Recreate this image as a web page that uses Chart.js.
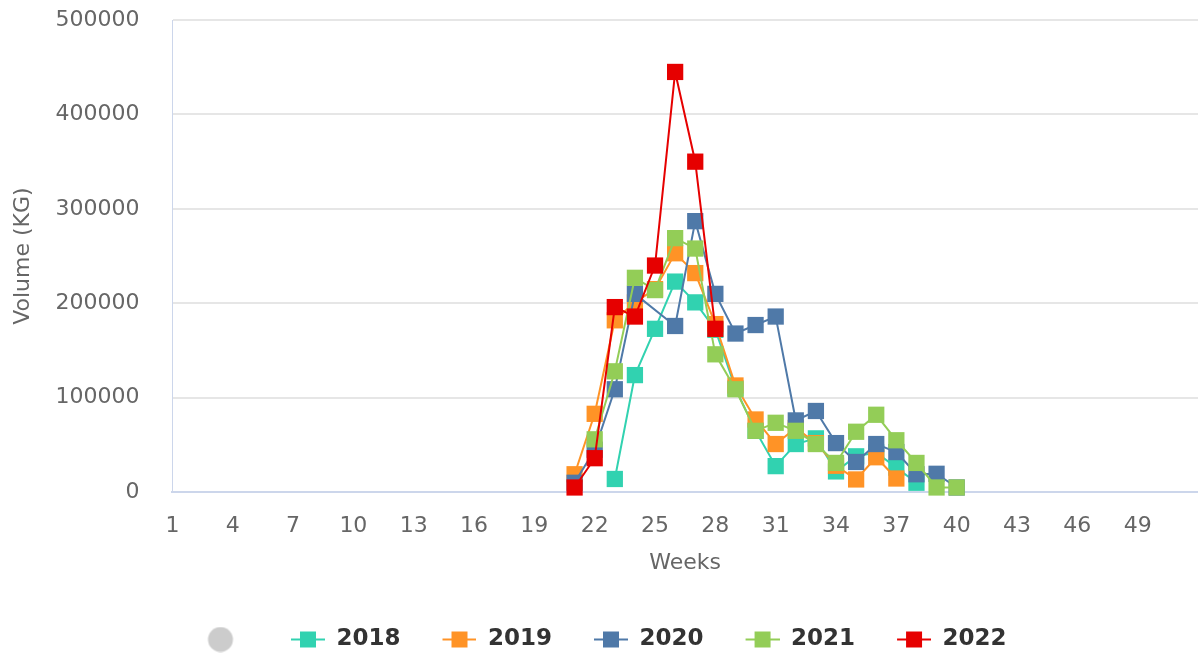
<!DOCTYPE html>
<html>
<head>
<meta charset="utf-8">
<script src="https://cdn.jsdelivr.net/npm/chart.js@4.4.0/dist/chart.umd.min.js"></script>
<style>
  html, body { margin: 0; padding: 0; background: #ffffff; }
  canvas { display: block; }
</style>
</head>
<body>
<canvas id="c" width="1198" height="655"></canvas>
<script>
// ---- data ----
const weeks = Array.from({length: 52}, (_, i) => String(i + 1));
const yTicks = [0, 100000, 200000, 300000, 400000, 500000];
const seriesNames = ['2018', '2019', '2020', '2021', '2022'];
const seriesColors = ['#31d2b0', '#ff9326', '#4f79a8', '#93cd57', '#e60000'];

// values by week, starting at week 21 (index 20); null = no value that week
const firstWeek = 21;
const v2018 = [null, null, 14000, 124000, 173000, 223000, 201000, 172000, 110000, 65000, 27600, 51000, 57000, 22000, 38000, 42000, 26000, 10000];
const v2019 = [19000, 83000, 182000, 201000, 215000, 253000, 232000, 178000, 113000, 77000, 51000, 68000, 52000, 28000, 13500, 37000, 14500];
const v2020 = [10000, 45000, 109000, 210000, null, 176000, 287000, 210000, 168000, 177000, 186000, 76000, 86000, 52000, 32000, 51000, 42500, 19000, 19500, 5000];
const v2021 = [null, 56000, 128000, 227000, 214000, 269000, 258000, 146000, 109000, 65000, 73500, 65000, 51000, 31000, 64000, 82000, 55000, 31000, 5000, 5000];
const v2022 = [5000, 36000, 196000, 186000, 240000, 445000, 350000, 173000];

function toWeekly(vals) {
  const out = weeks.map(() => null);
  vals.forEach((v, i) => { out[firstWeek - 1 + i] = v; });
  return out;
}
const allValues = [v2018, v2019, v2020, v2021, v2022];

// ---- legend symbols ----
function lineSquare(color) {
  const c = document.createElement('canvas');
  c.width = 66; c.height = 18;
  const g = c.getContext('2d');
  g.strokeStyle = color; g.lineWidth = 2;
  g.beginPath(); g.moveTo(32, 9); g.lineTo(66, 9); g.stroke();
  g.fillStyle = color;
  g.fillRect(49 - 8, 1, 16, 16);
  return c;
}
function greyCircle() {
  const c = document.createElement('canvas');
  c.width = 66; c.height = 26;
  const g = c.getContext('2d');
  g.fillStyle = '#cccccc';
  g.beginPath(); g.arc(49, 13, 12.5, 0, Math.PI * 2); g.fill();
  return c;
}

const FAMILY = 'DejaVu Sans';
Chart.defaults.font.family = FAMILY;
Chart.defaults.color = '#666666';

const datasets = seriesNames.map((name, i) => ({
  label: name,
  data: toWeekly(allValues[i]),
  borderColor: seriesColors[i],
  backgroundColor: seriesColors[i],
  borderWidth: 2,
  pointStyle: 'rect',
  pointRadius: 11.5,
  pointHoverRadius: 11.5,
  pointBorderWidth: 0,
  pointBackgroundColor: seriesColors[i],
  tension: 0,
  spanGaps: true,
  clip: false,
  order: seriesNames.length - 1 - i
}));

new Chart(document.getElementById('c'), {
  type: 'line',
  data: { labels: weeks, datasets },
  options: {
    responsive: false,
    animation: false,
    events: [],
    layout: { autoPadding: false, padding: { top: 20, right: 0, bottom: -6, left: -20 } },
    scales: {
      x: {
        type: 'category',
        offset: false,
        grid: { display: true, drawOnChartArea: false, drawTicks: true, tickLength: 21, tickColor: 'rgba(0,0,0,0)' },
        border: { display: true, color: '#ccd6eb', width: 2 },
        ticks: {
          autoSkip: false, maxRotation: 0, minRotation: 0, padding: 0,
          color: '#666666', font: { family: FAMILY, size: 22 },
          callback: (val, i) => (i % 3 === 0 && i < 51) ? weeks[i] : ''
        },
        title: { display: true, text: 'Weeks', color: '#666666', font: { family: FAMILY, size: 22 }, padding: { top: 10, bottom: 42 } }
      },
      y: {
        min: 0, max: 500000,
        afterBuildTicks: (axis) => { axis.ticks = yTicks.map(v => ({ value: v })); },
        grid: { color: '#e6e6e6', lineWidth: 2, drawTicks: true, tickLength: 33, tickColor: 'rgba(0,0,0,0)' },
        border: { display: true, color: '#ccd6eb', width: 1 },
        ticks: { padding: 0, color: '#666666', font: { family: FAMILY, size: 22 }, callback: (v) => String(v) },
        title: { display: true, text: 'Volume (KG)', color: '#666666', font: { family: FAMILY, size: 22 }, padding: { top: 30, bottom: 19 } }
      }
    },
    plugins: {
      tooltip: { enabled: false },
      legend: {
        position: 'bottom',
        onClick: () => {},
        labels: {
          usePointStyle: true,
          pointStyleWidth: 66,
          padding: 10,
          color: '#333333',
          font: { family: FAMILY, size: 23, weight: 'bold' },
          generateLabels: (chart) => {
            const items = [{ text: '', pointStyle: greyCircle(), fillStyle: '#cccccc', strokeStyle: '#cccccc', lineWidth: 0, hidden: false, fontColor: '#333333' }];
            seriesNames.forEach((name, i) => {
              items.push({ text: name, pointStyle: lineSquare(seriesColors[i]), fillStyle: seriesColors[i], strokeStyle: seriesColors[i], lineWidth: 0, hidden: false, datasetIndex: i, fontColor: '#333333' });
            });
            return items;
          }
        }
      }
    }
  }
});
</script>
</body>
</html>
